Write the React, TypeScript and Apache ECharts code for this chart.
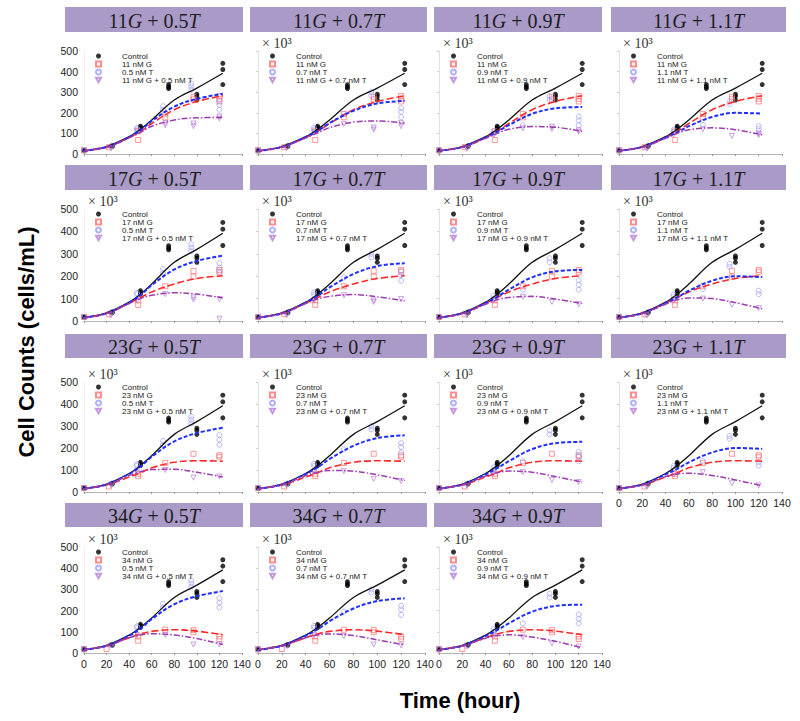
import React, { useEffect, useRef } from "react";
import * as echarts from "echarts";

// ---------- data ----------
const G_LEVELS = ["11", "17", "23", "34"];
const T_LEVELS = ["0.5", "0.7", "0.9", "1.1"];
// panel order: [row (G level), column (T level)]
const PANELS: number[][] = [
  [0, 0], [0, 1], [0, 2], [0, 3],
  [1, 0], [1, 1], [1, 2], [1, 3],
  [2, 0], [2, 1], [2, 2], [2, 3],
  [3, 0], [3, 1], [3, 2],
];
const X_TICKS = { min: 0, max: 140, interval: 20 };
const Y_TICKS = { min: 0, max: 500, interval: 100 };

// fitted curves, sampled at these times (hours), values in 10^3 cells/mL
const FIT_TIMES = [0, 20, 40, 50, 60, 80, 100, 123];
const FIT_CONTROL = [15, 36, 84, 120, 165, 262, 320, 392];
const FIT_G11 = [15, 34, 80, 110, 148, 215, 255, 283];
const FIT_G17 = [15, 34, 80, 105, 130, 165, 190, 202];
const FIT_G23 = [15, 32, 68, 88, 110, 135, 142, 140];
const FIT_G34 = [15, 35, 72, 90, 102, 110, 103, 86];
const FIT_T05 = [15, 34, 82, 115, 160, 230, 268, 292];
const FIT_T07 = [15, 34, 82, 112, 150, 210, 245, 258];
const FIT_T09 = [15, 34, 80, 108, 140, 195, 222, 228];
const FIT_T11 = [15, 34, 80, 105, 135, 180, 200, 196];
const FIT_GT = [
  [15, 33, 78, 105, 135, 165, 176, 177],
  [15, 33, 78, 103, 128, 155, 160, 150],
  [15, 33, 76, 100, 120, 133, 130, 110],
  [15, 33, 76, 100, 118, 127, 118, 93],
  [15, 33, 78, 100, 115, 126, 120, 103],
  [15, 33, 78, 98, 110, 118, 108, 90],
  [15, 33, 75, 95, 105, 110, 98, 78],
  [15, 33, 75, 95, 103, 100, 82, 55],
  [15, 33, 75, 92, 102, 103, 90, 68],
  [15, 33, 75, 90, 98, 95, 78, 52],
  [15, 33, 72, 88, 95, 90, 70, 45],
  [15, 32, 70, 82, 85, 75, 55, 28],
  [15, 33, 72, 85, 91, 85, 68, 40],
  [15, 33, 72, 85, 90, 82, 62, 38],
  [15, 33, 70, 82, 86, 75, 55, 25],
];

// measured points [time, value]
const PTS_CONTROL = [[0, 15], [0, 18], [25, 36], [25, 40], [50, 120], [50, 128], [50, 135], [75, 318], [75, 326], [75, 336], [100, 262], [100, 280], [100, 290], [123, 337], [123, 410], [123, 440]];
const PTS_G11 = [[0, 18], [22, 33], [48, 68], [48, 110], [72, 178], [72, 195], [97, 265], [97, 278], [120, 255], [120, 268], [120, 282]];
const PTS_G17 = [[0, 18], [22, 30], [48, 72], [48, 92], [72, 155], [97, 198], [97, 224], [120, 220], [120, 228]];
const PTS_G23 = [[0, 18], [22, 25], [48, 72], [48, 83], [72, 132], [97, 174], [120, 160], [120, 167]];
const PTS_G34 = [[0, 18], [20, 19], [48, 58], [48, 78], [72, 110], [97, 98], [97, 108], [120, 66], [120, 78]];
const PTS_T05 = [[0, 18], [24, 38], [47, 120], [47, 126], [70, 215], [70, 232], [95, 312], [95, 328], [95, 342], [120, 215], [120, 238], [120, 258]];
const PTS_T07 = [[0, 18], [24, 35], [47, 118], [47, 128], [72, 195], [95, 285], [95, 300], [120, 180], [120, 205], [120, 222]];
const PTS_T09 = [[0, 18], [24, 33], [47, 100], [47, 112], [72, 140], [95, 262], [95, 280], [120, 140], [120, 162], [120, 182]];
const PTS_T11 = [[0, 18], [24, 30], [47, 108], [47, 118], [72, 142], [95, 242], [95, 255], [120, 120], [120, 135]];
const PTS_GT = [
  [[0, 18], [24, 28], [47, 110], [72, 140], [72, 150], [97, 135], [97, 148], [120, 172], [120, 182]],
  [[0, 18], [24, 28], [47, 105], [72, 145], [97, 118], [97, 128], [120, 135], [120, 150]],
  [[0, 18], [24, 25], [47, 92], [72, 125], [97, 122], [97, 132], [120, 108], [120, 115]],
  [[0, 18], [24, 28], [47, 95], [72, 120], [97, 88], [120, 92], [120, 100]],
  [[0, 18], [24, 25], [47, 92], [72, 120], [97, 95], [97, 105], [120, 98], [120, 10]],
  [[0, 18], [24, 25], [47, 92], [72, 115], [97, 85], [97, 92], [120, 98]],
  [[0, 18], [24, 25], [47, 92], [72, 108], [97, 85], [120, 75]],
  [[0, 18], [24, 25], [47, 92], [72, 100], [97, 72], [120, 58]],
  [[0, 18], [24, 30], [47, 95], [72, 100], [97, 65], [120, 70]],
  [[0, 18], [24, 30], [47, 90], [72, 95], [97, 60], [120, 50]],
  [[0, 18], [24, 30], [47, 85], [72, 90], [97, 55], [120, 45]],
  [[0, 18], [24, 25], [47, 80], [72, 90], [97, 40], [120, 30]],
  [[0, 18], [24, 35], [47, 85], [72, 85], [97, 40], [120, 40]],
  [[0, 18], [24, 35], [47, 85], [72, 80], [97, 40], [120, 35]],
  [[0, 18], [24, 35], [47, 85], [72, 75], [97, 45], [120, 30]],
];

const FIT_G = [FIT_G11, FIT_G17, FIT_G23, FIT_G34];
const FIT_T = [FIT_T05, FIT_T07, FIT_T09, FIT_T11];
const PTS_G = [PTS_G11, PTS_G17, PTS_G23, PTS_G34];
const PTS_T = [PTS_T05, PTS_T07, PTS_T09, PTS_T11];

// ---------- layout ----------
const COL_X = [[84, 242], [258, 425], [439, 602], [619, 782]];
const ROW_Y = [[51, 154], [209, 321], [382, 492], [547, 653]];
const COL_BOX = [[65, 243], [250, 427], [434, 602], [611, 786]];
const ROW_BOX = [[7, 32], [165, 190], [334, 358], [503, 527]];

const SANS = "Liberation Sans, Arial, sans-serif";
const SERIF = "Liberation Serif, Times New Roman, serif";
const DOWN_TRIANGLE = "path://M0,0L10,0L5,9Z";

function fit(values: number[]) {
  return FIT_TIMES.map((t, k) => [t, values[k]]);
}

function buildOption() {
  const grid: any[] = [];
  const xAxis: any[] = [];
  const yAxis: any[] = [];
  const series: any[] = [];
  const legend: any[] = [];
  const graphic: any[] = [];

  PANELS.forEach(([r, c], i) => {
    const g = G_LEVELS[r];
    const t = T_LEVELS[c];
    const [x0, x1] = COL_X[c];
    const [y0, y1] = ROW_Y[r];
    const names = ["Control", `${g} nM G`, `${t} nM T`, `${g} nM G + ${t} nM T`];
    grid.push({ left: x0, top: y0, width: x1 - x0, height: y1 - y0 });
    const showX = r === 3 || (r === 2 && c === 3);
    xAxis.push({
      gridIndex: i,
      type: "value",
      ...X_TICKS,
      axisLine: { show: true, lineStyle: { color: "#b5b5b5", width: 1 } },
      axisTick: { show: true, length: 2, lineStyle: { color: "#999" } },
      splitLine: { show: false },
      axisLabel: { show: showX, fontSize: 10.5, color: "#222", margin: 5, fontFamily: SANS },
    });
    yAxis.push({
      gridIndex: i,
      type: "value",
      ...Y_TICKS,
      axisLine: { show: true, lineStyle: { color: c === 0 ? "#f2f2f2" : "#e2e2e2", width: 1 } },
      axisTick: { show: c !== 0, length: 2, lineStyle: { color: "#ccc" } },
      splitLine: { show: false },
      axisLabel: { show: c === 0, fontSize: 10.5, color: "#222", margin: 6, fontFamily: SANS },
      name: i === 0 ? "" : "× 10³",
      nameLocation: "end",
      nameGap: 8,
      nameTextStyle: {
        align: "left",
        verticalAlign: "middle",
        fontFamily: SERIF,
        fontSize: 14,
        color: "#333",
        padding: [0, 0, 0, 4],
      },
    });

    // measured points
    series.push({
      type: "scatter", name: names[0], xAxisIndex: i, yAxisIndex: i, data: PTS_CONTROL,
      symbol: "circle", symbolSize: 5, itemStyle: { color: "#000" }, z: 2, silent: true,
    });
    series.push({
      type: "scatter", name: names[1], xAxisIndex: i, yAxisIndex: i, data: PTS_G[r],
      symbol: "rect", symbolSize: 5,
      itemStyle: { color: "rgba(255,255,255,0)", borderColor: "#ff7070", borderWidth: 0.9 }, z: 2, silent: true,
    });
    series.push({
      type: "scatter", name: names[2], xAxisIndex: i, yAxisIndex: i, data: PTS_T[c],
      symbol: "circle", symbolSize: 5,
      itemStyle: { color: "rgba(255,255,255,0)", borderColor: "#9a9cff", borderWidth: 0.9 }, z: 2, silent: true,
    });
    series.push({
      type: "scatter", name: names[3], xAxisIndex: i, yAxisIndex: i, data: PTS_GT[i],
      symbol: DOWN_TRIANGLE, symbolSize: 5,
      itemStyle: { color: "rgba(255,255,255,0)", borderColor: "#b77ed6", borderWidth: 0.9 }, z: 2, silent: true,
    });

    // fitted curves
    const lineCommon = { type: "line", xAxisIndex: i, yAxisIndex: i, smooth: 0.35, showSymbol: false, symbol: "none", z: 3, silent: true };
    series.push({ ...lineCommon, name: "Control fit", data: fit(FIT_CONTROL), lineStyle: { color: "#111", width: 1.3 } });
    series.push({ ...lineCommon, name: `${g} nM G fit`, data: fit(FIT_G[r]), lineStyle: { color: "#ff2a2a", width: 1.6, type: [7, 3] } });
    series.push({ ...lineCommon, name: `${t} nM T fit`, data: fit(FIT_T[c]), lineStyle: { color: "#1f2fff", width: 2, type: [4, 2] } });
    series.push({ ...lineCommon, name: `${g} nM G + ${t} nM T fit`, data: fit(FIT_GT[i]), lineStyle: { color: "#9a3cb0", width: 1.5, type: [6, 2, 1.5, 2] } });

    legend.push({
      orient: "vertical",
      left: x0 + 11,
      top: y0 + 1,
      padding: 0,
      itemWidth: 5,
      itemHeight: 5,
      itemGap: 0,
      selectedMode: false,
      textStyle: { fontSize: 8, color: "#222", fontFamily: SANS, lineHeight: 8, padding: [0, 0, 0, 16] },
      data: names,
    });

    // title boxes
    const [bx0, bx1] = COL_BOX[c];
    const [by0, by1] = ROW_BOX[r];
    graphic.push({
      type: "rect",
      shape: { x: bx0, y: by0, width: bx1 - bx0, height: by1 - by0 },
      style: { fill: "#a99ac7" },
      silent: true,
    });
    graphic.push({
      type: "text",
      x: (bx0 + bx1) / 2,
      y: (by0 + by1) / 2 + 1,
      silent: true,
      style: {
        text: `{n|${g}}{i|G}{n| + ${t}}{i|T}`,
        align: "center",
        verticalAlign: "middle",
        textAlign: "center",
        textVerticalAlign: "middle",
        rich: {
          n: { fontFamily: SERIF, fontSize: 20, fill: "#1e1e1e", color: "#1e1e1e" },
          i: { fontFamily: SERIF, fontSize: 20, fontStyle: "italic", fill: "#1e1e1e", color: "#1e1e1e" },
        },
      },
    });
  });

  graphic.push({
    type: "text",
    x: 26,
    y: 342,
    rotation: Math.PI / 2,
    silent: true,
    style: {
      text: "Cell Counts (cells/mL)",
      font: `bold 22px ${SANS}`,
      fill: "#000",
      align: "center",
      verticalAlign: "middle",
      textAlign: "center",
      textVerticalAlign: "middle",
    },
  });
  graphic.push({
    type: "text",
    x: 460,
    y: 700,
    silent: true,
    style: {
      text: "Time (hour)",
      font: `bold 22px ${SANS}`,
      fill: "#000",
      align: "center",
      verticalAlign: "middle",
      textAlign: "center",
      textVerticalAlign: "middle",
    },
  });

  return {
    animation: false,
    backgroundColor: "#fff",
    grid,
    xAxis,
    yAxis,
    series,
    legend,
    graphic,
  };
}

export default function App() {
  const ref = useRef<HTMLDivElement>(null);
  useEffect(() => {
    if (!ref.current) return;
    const chart = echarts.init(ref.current, null, { renderer: "svg" });
    chart.setOption(buildOption() as any);
    return () => chart.dispose();
  }, []);
  return (
    <div
      ref={ref}
      style={{ position: "absolute", left: 0, top: 0, width: 800, height: 721 }}
    />
  );
}
